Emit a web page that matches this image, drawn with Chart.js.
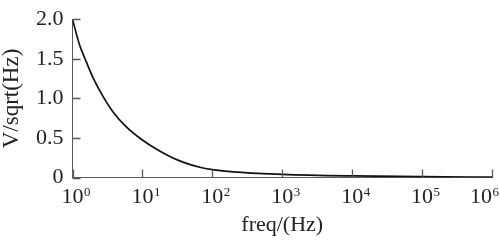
<!DOCTYPE html>
<html>
<head>
<meta charset="utf-8">
<script src="https://cdn.jsdelivr.net/npm/chart.js@4"></script>
<style>
html,body{margin:0;padding:0;background:#fff;}
#wrap{width:500px;height:243px;position:relative;}
</style>
</head>
<body>
<div id="wrap"><canvas id="c" width="500" height="243"></canvas></div>
<script>
// Data
const freqs = [1, 1.259, 1.514, 1.995, 2.754, 3.802, 5.888, 9.12, 14.13, 22.39, 38.02, 66.07, 100, 199.5, 1000, 10000, 100000, 1000000];
const values = [2.0, 1.68, 1.5, 1.25, 1.02, 0.83, 0.64, 0.50, 0.386, 0.286, 0.194, 0.13, 0.10, 0.07, 0.04, 0.02, 0.01, 0.005];
const xTickValues = [1, 10, 100, 1000, 10000, 100000, 1000000];
const xTickBase = '10';
const xTickExponents = ['0', '1', '2', '3', '4', '5', '6'];
const yTickValues = [0, 0.5, 1.0, 1.5, 2.0];
const yTickLabels = ['0', '0.5', '1.0', '1.5', '2.0'];
const xTitle = 'freq/(Hz)';
const yTitle = 'V/sqrt(Hz)';

const points = freqs.map((f, i) => ({x: f, y: values[i]}));
const FAM = '"Liberation Serif", "Times New Roman", serif';
const AXIS = '#5a5a5a';
const TEXT = '#222';

const axisDecor = {
  id: 'axisDecor',
  afterDraw(chart) {
    const ctx = chart.ctx;
    const xs = chart.scales.x, ys = chart.scales.y;
    const area = chart.chartArea;
    ctx.save();
    // inward tick marks
    ctx.strokeStyle = AXIS;
    ctx.lineWidth = 1.3;
    ctx.beginPath();
    xTickValues.forEach(v => {
      const px = Math.round(xs.getPixelForValue(v)) + 0.5;
      ctx.moveTo(px, area.bottom);
      ctx.lineTo(px, area.bottom - 8);
    });
    yTickValues.forEach(v => {
      const py = Math.round(ys.getPixelForValue(v)) + 0.5;
      ctx.moveTo(area.left, py);
      ctx.lineTo(area.left + 8, py);
    });
    ctx.stroke();
    // x tick labels: 10 with raised exponent
    ctx.fillStyle = TEXT;
    ctx.textBaseline = 'alphabetic';
    ctx.textAlign = 'left';
    xTickValues.forEach((v, i) => {
      const px = xs.getPixelForValue(v);
      ctx.font = '22px ' + FAM;
      const w = ctx.measureText(xTickBase).width;
      ctx.font = '13px ' + FAM;
      const we = ctx.measureText(xTickExponents[i]).width;
      let x0 = px - w / 2;
      if (x0 + w + 0.5 + we > chart.width - 1) x0 = chart.width - 1 - we - 0.5 - w;
      ctx.font = '22px ' + FAM;
      ctx.fillText(xTickBase, x0, area.bottom + 25.5);
      ctx.font = '13px ' + FAM;
      ctx.fillText(xTickExponents[i], x0 + w + 0.5, area.bottom + 18);
    });
    ctx.restore();
  }
};

function draw() {
  new Chart(document.getElementById('c'), {
    type: 'line',
    data: {
      datasets: [{
        data: points,
        borderColor: '#111',
        borderWidth: 1.7,
        pointRadius: 0,
        fill: false,
        cubicInterpolationMode: 'monotone'
      }]
    },
    options: {
      responsive: false,
      animation: false,
      devicePixelRatio: 1,
      layout: {padding: {left: 0, right: 8, top: 0, bottom: 0}},
      plugins: {legend: {display: false}, tooltip: {enabled: false}},
      scales: {
        x: {
          type: 'logarithmic',
          min: 1, max: 1000000,
          afterBuildTicks(s) { s.ticks = xTickValues.map(v => ({value: v})); },
          afterFit(s) { s.height = 65.5; },
          grid: {display: false},
          border: {display: true, color: AXIS, width: 1},
          ticks: {display: false},
          title: {display: true, text: xTitle, color: TEXT, font: {family: FAM, size: 22, lineHeight: 1.2}, padding: {top: 0, bottom: 5}}
        },
        y: {
          min: 0, max: 2.0,
          afterBuildTicks(s) { s.ticks = yTickValues.map(v => ({value: v})); },
          afterFit(s) { s.width = 72.5; },
          grid: {display: false, drawTicks: false},
          border: {display: true, color: AXIS, width: 1},
          ticks: {
            padding: 9, color: TEXT,
            font: {family: FAM, size: 22, lineHeight: 0.95},
            callback(v) { const i = yTickValues.indexOf(v); return i >= 0 ? yTickLabels[i] : ''; }
          },
          title: {display: true, text: yTitle, color: TEXT, font: {family: FAM, size: 23, lineHeight: 1.0}, padding: {top: 0, bottom: 0}}
        }
      }
    },
    plugins: [axisDecor]
  });
}

if (document.fonts && document.fonts.load) {
  Promise.all([
    document.fonts.load('22px "Liberation Serif"'),
    document.fonts.load('13px "Liberation Serif"')
  ]).then(draw, draw);
} else {
  draw();
}
</script>
</body>
</html>
